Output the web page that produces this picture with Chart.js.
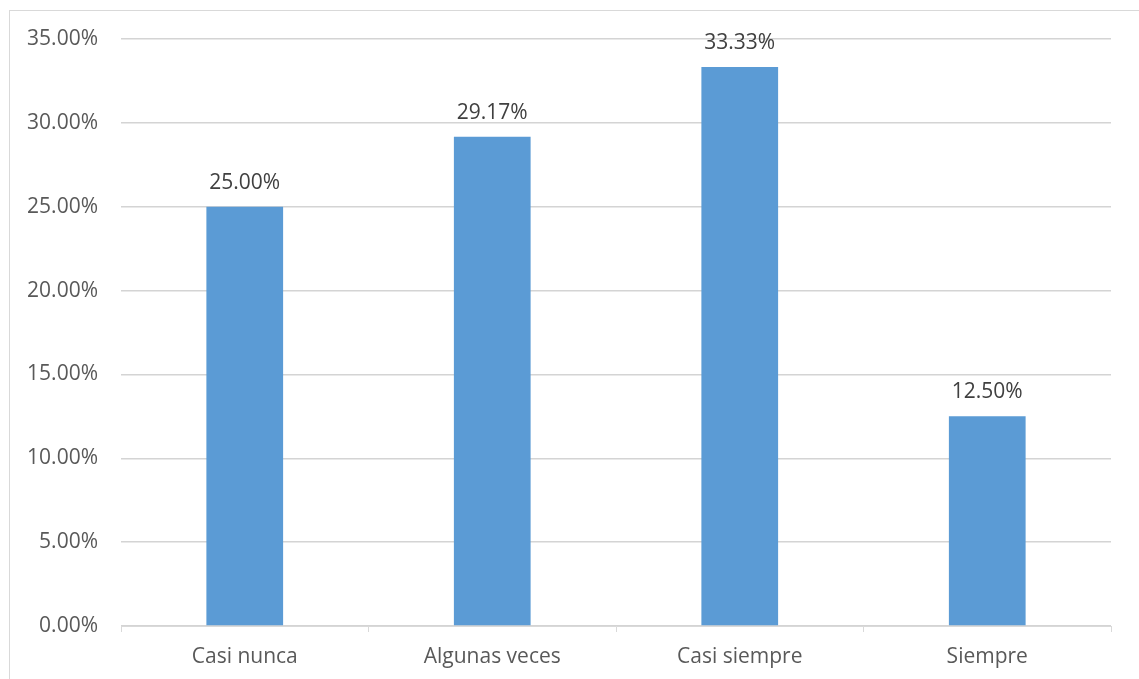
<!DOCTYPE html>
<html>
<head>
<meta charset="utf-8">
<script src="https://cdn.jsdelivr.net/npm/chart.js@4.4.1/dist/chart.umd.min.js"></script>
<style>
  html, body { margin: 0; padding: 0; background: #fff; overflow: hidden; }
  #wrap { position: relative; width: 1139px; height: 679px; }
  #frame { position: absolute; left: 9px; top: 10px; width: 1200px; height: 800px; border: 1px solid #d9d9d9; box-sizing: border-box; pointer-events: none; }
  canvas { position: absolute; left: 0; top: 0; }
</style>
</head>
<body>
<div id="wrap">
  <div id="frame"></div>
  <canvas id="c" width="1139" height="679"></canvas>
</div>
<script>
const categories = ["Casi nunca", "Algunas veces", "Casi siempre", "Siempre"];
const values = [25.00, 29.17, 33.33, 12.50];
const yTicks = [0, 5, 10, 15, 20, 25, 30, 35];

const FONT = "'Open Sans', 'Noto Sans', sans-serif";

const labelPlugin = {
  id: 'barLabels',
  afterDatasetsDraw(chart) {
    const ctx = chart.ctx;
    const meta = chart.getDatasetMeta(0);
    ctx.save();
    ctx.font = "21px " + FONT;
    ctx.fillStyle = "#404040";
    ctx.textAlign = "center";
    ctx.textBaseline = "middle";
    meta.data.forEach((bar, i) => {
      ctx.fillText(values[i].toFixed(2) + "%", bar.x, bar.y - 24);
    });
    ctx.restore();
  }
};

new Chart(document.getElementById('c'), {
  type: 'bar',
  data: {
    labels: categories,
    datasets: [{
      data: values,
      backgroundColor: '#5b9bd5',
      borderWidth: 0,
      barPercentage: 1,
      categoryPercentage: 0.31
    }]
  },
  options: {
    responsive: false,
    animation: false,
    devicePixelRatio: 1,
    layout: { padding: { top: 39, right: 28, bottom: 0, left: 0 } },
    plugins: { legend: { display: false }, tooltip: { enabled: false } },
    scales: {
      x: {
        grid: { drawOnChartArea: false, drawTicks: true, tickLength: 6, color: '#d9d9d9', offset: true },
        border: { display: true, color: '#d9d9d9', width: 1 },
        ticks: { color: '#595959', font: { family: FONT, size: 21 }, padding: 12, maxRotation: 0 },
        afterFit(scale) { scale.height = 53; }
      },
      y: {
        min: 0, max: 35,
        afterBuildTicks(scale) { scale.ticks = yTicks.map(v => ({ value: v })); },
        grid: { color: '#d4d4d4', drawTicks: false, lineWidth: 1.5 },
        border: { display: false },
        ticks: {
          color: '#595959', font: { family: FONT, size: 21 }, padding: 23,
          callback: (v) => Number(v).toFixed(2) + '%'
        },
        afterFit(scale) { scale.width = 121; }
      }
    }
  },
  plugins: [labelPlugin]
});
</script>
</body>
</html>
